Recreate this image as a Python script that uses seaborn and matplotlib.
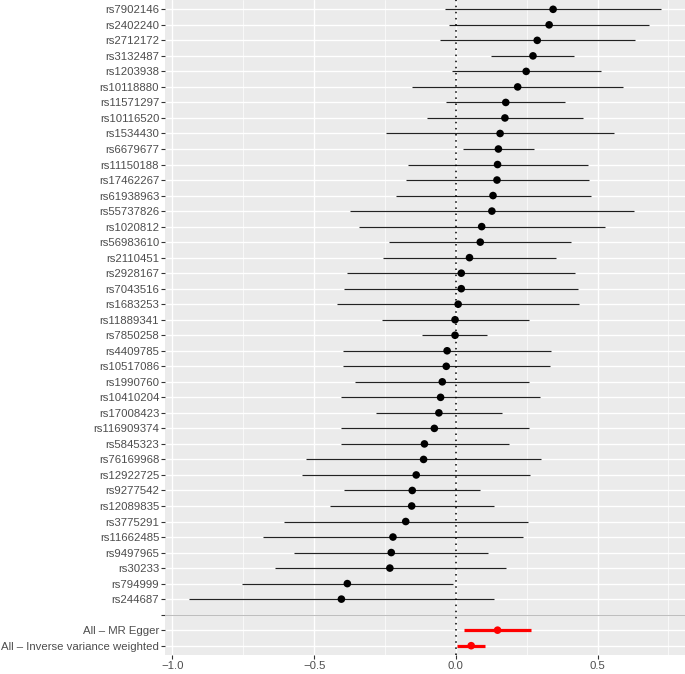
import matplotlib
matplotlib.use("Agg")
import matplotlib.pyplot as plt
from matplotlib.ticker import MultipleLocator
import seaborn as sns
import numpy as np
import pandas as pd

# single SNP estimates, top row first
snps = ["rs7902146", "rs2402240", "rs2712172", "rs3132487", "rs1203938",
        "rs10118880", "rs11571297", "rs10116520", "rs1534430", "rs6679677",
        "rs11150188", "rs17462267", "rs61938963", "rs55737826", "rs1020812",
        "rs56983610", "rs2110451", "rs2928167", "rs7043516", "rs1683253",
        "rs11889341", "rs7850258", "rs4409785", "rs10517086", "rs1990760",
        "rs10410204", "rs17008423", "rs116909374", "rs5845323", "rs76169968",
        "rs12922725", "rs9277542", "rs12089835", "rs3775291", "rs11662485",
        "rs9497965", "rs30233", "rs794999", "rs244687"]
beta = [0.343, 0.329, 0.287, 0.272, 0.248, 0.218, 0.176, 0.173, 0.156, 0.150,
        0.147, 0.145, 0.131, 0.127, 0.091, 0.086, 0.048, 0.019, 0.019, 0.008,
        -0.003, -0.003, -0.031, -0.034, -0.048, -0.054, -0.060, -0.076, -0.111, -0.114,
        -0.140, -0.154, -0.156, -0.177, -0.222, -0.228, -0.233, -0.383, -0.404]
lower = [-0.040, -0.025, -0.057, 0.125, -0.012, -0.156, -0.034, -0.103, -0.245, 0.026,
         -0.170, -0.176, -0.213, -0.373, -0.343, -0.235, -0.258, -0.384, -0.395, -0.420,
         -0.262, -0.119, -0.397, -0.400, -0.356, -0.404, -0.281, -0.407, -0.407, -0.528,
         -0.542, -0.394, -0.444, -0.608, -0.681, -0.571, -0.640, -0.753, -0.943]
upper = [0.725, 0.682, 0.631, 0.418, 0.511, 0.591, 0.384, 0.449, 0.557, 0.275,
         0.465, 0.468, 0.477, 0.627, 0.526, 0.406, 0.353, 0.420, 0.432, 0.435,
         0.258, 0.111, 0.336, 0.333, 0.259, 0.298, 0.162, 0.258, 0.187, 0.301,
         0.262, 0.086, 0.136, 0.255, 0.236, 0.114, 0.176, -0.011, 0.136]

# pooled estimates
methods = ["All \u2013 MR Egger", "All \u2013 Inverse variance weighted"]
method_beta = [0.147, 0.054]
method_lower = [0.029, 0.005]
method_upper = [0.264, 0.103]

sns.set_theme(style="darkgrid", rc={"axes.facecolor": "#EBEBEB",
                                    "grid.color": "white"})
plt.rcParams["font.family"] = ["Liberation Sans", "DejaVu Sans"]

df = pd.DataFrame({
    "label": snps + [""] + methods,
    "b": beta + [np.nan] + method_beta,
    "lo": lower + [np.nan] + method_lower,
    "up": upper + [np.nan] + method_upper,
    "group": ["snp"] * len(snps) + ["blank"] + ["all"] * len(methods),
})
df["pos"] = np.arange(len(df), 0, -1)

fig = plt.figure(figsize=(6.85, 6.74), dpi=100)
ax = fig.add_axes([165 / 685, 19 / 674, 520 / 685, 655 / 674])

snp_rows = df[df.group == "snp"]
all_rows = df[df.group == "all"]
ax.hlines(snp_rows.pos, snp_rows.lo, snp_rows.up, color="#222222", lw=0.85, zorder=2)
ax.hlines(all_rows.pos, all_rows.lo, all_rows.up, color="red", lw=2.3, zorder=2)
sns.scatterplot(data=df.dropna(), x="b", y="pos", hue="group",
                palette={"snp": "black", "all": "red"}, s=30, linewidth=0,
                legend=False, zorder=3, ax=ax)

ax.axvline(0, color="black", ls=(0, (1, 3)), lw=1.1, zorder=2.5)
ax.axhline(df.loc[df.group == "blank", "pos"].iloc[0], color="#BEBEBE", lw=0.8, zorder=1.5)

lo_all = np.nanmin(df.lo)
hi_all = np.nanmax(df.up)
pad = 0.05 * (hi_all - lo_all)
ax.set_xlim(lo_all - pad, hi_all + pad)
ax.set_ylim(0.4, len(df) + 0.6)

ax.set_yticks(df.pos)
ax.set_yticklabels(df.label)
ax.xaxis.set_major_locator(MultipleLocator(0.5))
ax.xaxis.set_minor_locator(MultipleLocator(0.25))

ax.grid(which="major", color="white", lw=1.0)
ax.grid(which="minor", axis="x", color="white", lw=0.5)
ax.set_axisbelow(True)
for s in ax.spines.values():
    s.set_visible(False)

ax.tick_params(axis="both", which="major", bottom=True, left=True, length=2.7,
               width=0.8, color="#333333", labelcolor="#4D4D4D", labelsize=8.2, pad=1.5)
ax.tick_params(axis="x", which="minor", length=0)
ax.set_xlabel("")
ax.set_ylabel("")

fig.savefig("out.png", dpi=100)
